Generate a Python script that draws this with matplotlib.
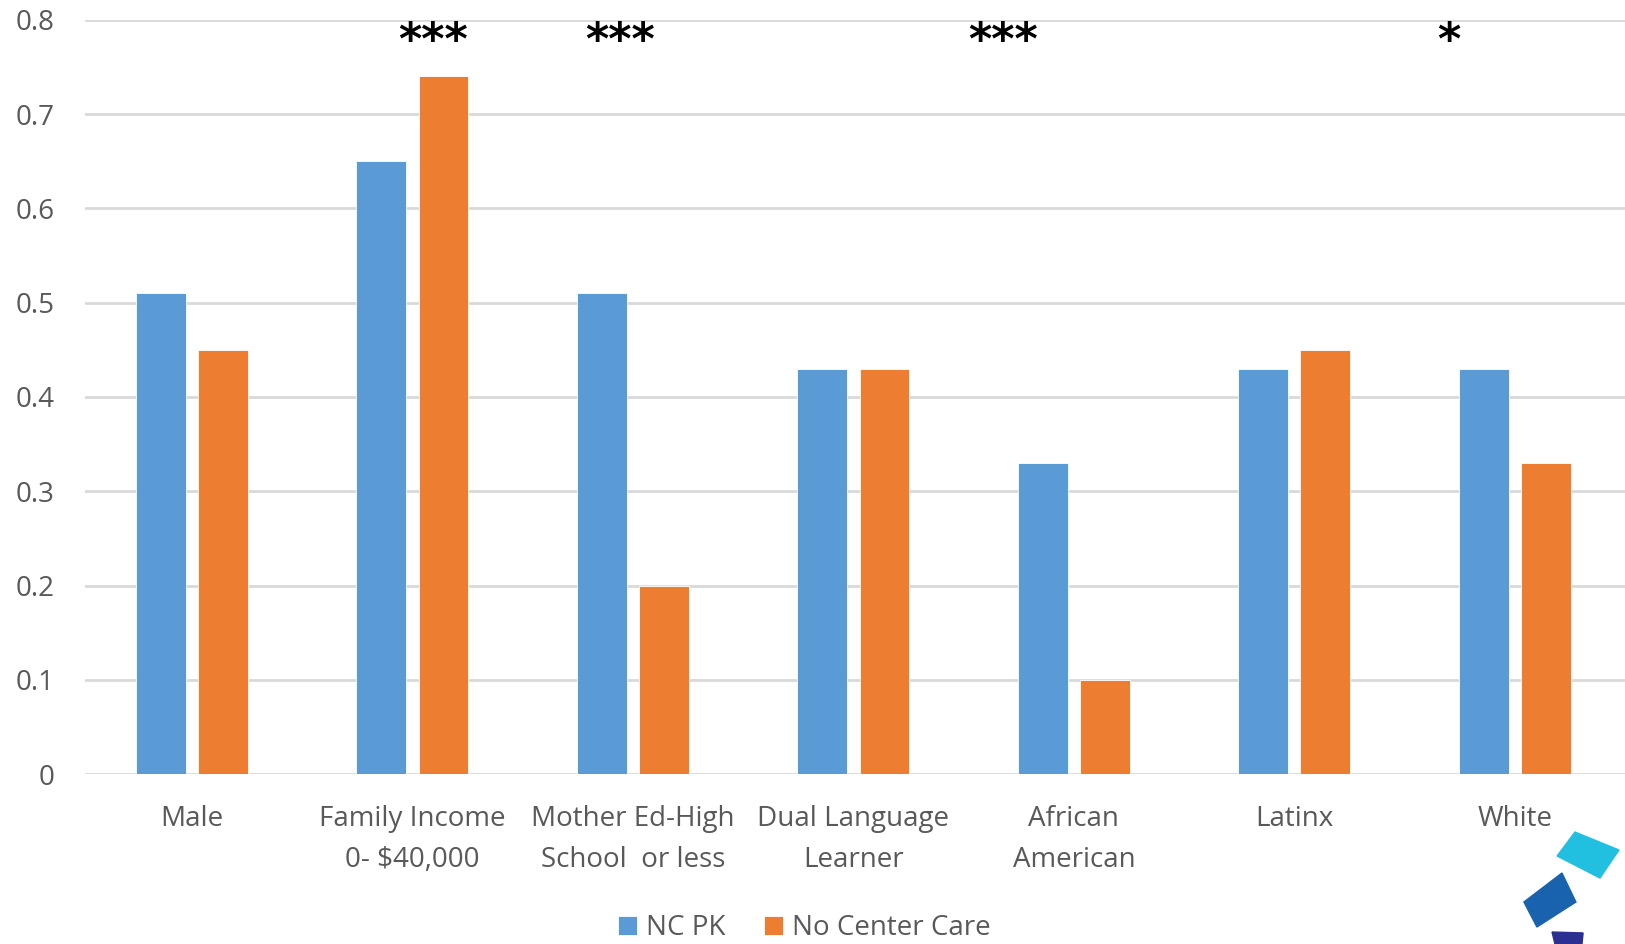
import matplotlib.pyplot as plt
import numpy as np
from matplotlib.patches import Polygon

categories = ["Male", "Family Income\n0- $40,000", "Mother Ed-High\nSchool  or less",
              "Dual Language\nLearner", "African\nAmerican", "Latinx", "White"]
nc_pk = [0.51, 0.65, 0.51, 0.43, 0.33, 0.43, 0.43]
no_center = [0.45, 0.74, 0.20, 0.43, 0.10, 0.45, 0.33]

# significance markers: (x position in category units, label)
stars_x = [1.095, 1.94, 3.68, 5.70]
stars_txt = ["***", "***", "***", "*"]

blue = "#5B9BD5"
orange = "#ED7D31"
grey = "#595959"

plt.rcParams["font.family"] = ["Open Sans", "DejaVu Sans"]

fig = plt.figure(figsize=(16.25, 9.44), dpi=100)
ax = fig.add_axes([0.0523, 0.180, 0.9477, 0.799])

x = np.arange(len(categories))
w = 0.226
off = 0.141
ax.bar(x - off, nc_pk, w, color=blue, edgecolor="white", linewidth=0.6, label="NC PK", zorder=3)
ax.bar(x + off, no_center, w, color=orange, edgecolor="white", linewidth=0.6, label="No Center Care", zorder=3)

ax.set_ylim(0, 0.8)
ax.set_xlim(-0.485, 6.5)
ax.set_yticks(np.arange(0, 0.81, 0.1))
ax.set_yticklabels(["0"] + ["%.1f" % v for v in np.arange(0.1, 0.81, 0.1)])
ax.yaxis.grid(True, color="#d9d9d9", linewidth=2, zorder=0)
ax.set_axisbelow(True)
for s in ax.spines.values():
    s.set_visible(False)
ax.tick_params(axis="y", length=0, pad=22, labelsize=20, labelcolor=grey)
ax.tick_params(axis="x", length=0, pad=22, labelsize=20, labelcolor=grey)
ax.set_xticks(x)
ax.set_xticklabels(categories, linespacing=1.65)

for sx, st in zip(stars_x, stars_txt):
    ax.text(sx, 0.764, st, ha="center", va="baseline", fontsize=32, color="black",
            family="DejaVu Sans", fontweight="bold")

ax.legend(loc="lower center", bbox_to_anchor=(0.467, -0.256), ncol=2, frameon=False,
          fontsize=20, labelcolor=grey, handlelength=0.7, handleheight=0.7,
          handletextpad=0.3, columnspacing=1.4)

# small logo in the bottom corner
logo = [
    ([(0.9692, 0.1186), (0.9963, 0.0996), (0.9846, 0.0699), (0.9582, 0.0932)], "#22C0E0"),
    ([(0.9612, 0.0752), (0.9698, 0.0445), (0.9458, 0.0180), (0.9378, 0.0445)], "#1862AE"),
    ([(0.9551, 0.0127), (0.9742, 0.0117), (0.9735, 0.0), (0.9569, 0.0)], "#2B2F92"),
]
for pts, c in logo:
    fig.add_artist(Polygon(pts, closed=True, transform=fig.transFigure, color=c))

fig.savefig("out.png", dpi=100)
